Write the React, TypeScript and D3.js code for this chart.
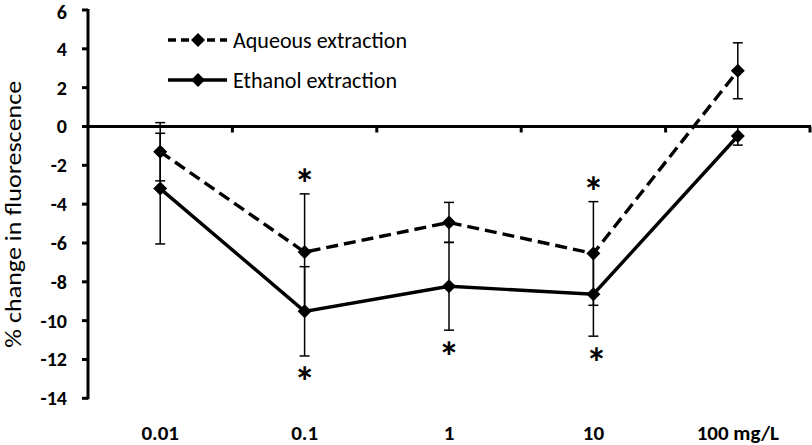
import React from "react";
import * as d3 from "d3";

const categories = ["0.01", "0.1", "1", "10", "100 mg/L"];
const aqueousMean = [-1.3, -6.47, -4.94, -6.54, 2.87];
const aqueousErr = [1.5, 3.0, 1.03, 2.67, 1.44];
const ethanolMean = [-3.2, -9.52, -8.23, -8.64, -0.49];
const ethanolErr = [2.85, 2.3, 2.26, 2.16, 0.47];
const aqueousSig = [false, true, false, true, false];
const ethanolSig = [false, true, true, true, false];
const yTicks = [6, 4, 2, 0, -2, -4, -6, -8, -10, -12, -14];
const seriesNames = ["Aqueous extraction", "Ethanol extraction"];

const W = 812;
const H = 445;
const FONT = "Carlito, Calibri, Lato, 'Open Sans', sans-serif";

export default function App() {
  const x = d3.scaleBand<string>().domain(categories).range([88, 810]).padding(0);
  const y = d3.scaleLinear().domain([-14, 6]).range([398.3, 10]);
  const cx = (c: string) => (x(c) as number) + x.bandwidth() / 2;
  const y0 = y(0);

  const line = d3
    .line<number>()
    .x((_, i) => cx(categories[i]))
    .y((v) => y(v));

  const diamond = "M0,-7L7,0L0,7L-7,0Z";

  const series = [
    { name: seriesNames[0], mean: aqueousMean, err: aqueousErr, dash: "12,6" },
    { name: seriesNames[1], mean: ethanolMean, err: ethanolErr, dash: "none" },
  ];

  const astFs = 42;

  return (
    <svg
      width={W}
      height={H}
      style={{ position: "absolute", left: 0, top: 0, background: "#fff" }}
      fontFamily={FONT}
    >
      <rect x={0} y={0} width={W} height={H} fill="#fff" />

      {/* y axis */}
      <line x1={88} x2={88} y1={y(6) - 1} y2={y(-14) + 1} stroke="#000" strokeWidth={3} />
      {yTicks.map((t) => (
        <g key={t}>
          <line x1={82} x2={88} y1={y(t)} y2={y(t)} stroke="#000" strokeWidth={3} />
          <text
            x={67}
            y={Math.max(y(t), 12)}
            textAnchor="end"
            dominantBaseline="central"
            fontSize={20}
            fontWeight="bold"
          >
            {t}
          </text>
        </g>
      ))}
      <text
        transform={`translate(13,${(y(6) + y(-14)) / 2 + 10}) rotate(-90)`}
        textAnchor="middle"
        dominantBaseline="central"
        fontSize={22}
        textLength={267}
        lengthAdjust="spacingAndGlyphs"
      >
        % change in fluorescence
      </text>

      {/* x axis at zero */}
      <line x1={86.5} x2={811} y1={y0} y2={y0} stroke="#000" strokeWidth={3} />
      {categories.map((c) => (
        <line
          key={"t" + c}
          x1={(x(c) as number) + x.bandwidth()}
          x2={(x(c) as number) + x.bandwidth()}
          y1={y0}
          y2={y0 + 6}
          stroke="#000"
          strokeWidth={3}
        />
      ))}
      {categories.map((c) => (
        <text
          key={"l" + c}
          x={cx(c)}
          y={433}
          textAnchor="middle"
          dominantBaseline="central"
          fontSize={21}
          fontWeight="bold"
        >
          {c}
        </text>
      ))}

      {/* error bars */}
      {series.map((s) =>
        categories.map((c, i) => {
          const top = y(s.mean[i] + s.err[i]);
          const bot = y(s.mean[i] - s.err[i]);
          const xc = cx(c);
          return (
            <g key={s.name + c} stroke="#000" strokeWidth={1.5}>
              <line x1={xc} x2={xc} y1={top} y2={bot} />
              <line x1={xc - 5} x2={xc + 5} y1={top} y2={top} />
              <line x1={xc - 5} x2={xc + 5} y1={bot} y2={bot} />
            </g>
          );
        })
      )}

      {/* lines */}
      {series.map((s) => (
        <path
          key={"p" + s.name}
          d={line(s.mean) || ""}
          fill="none"
          stroke="#000"
          strokeWidth={3.4}
          strokeDasharray={s.dash}
        />
      ))}
      {series.map((s) =>
        s.mean.map((v, i) => (
          <path
            key={"m" + s.name + i}
            d={diamond}
            transform={`translate(${cx(categories[i])},${y(v)})`}
            fill="#000"
          />
        ))
      )}

      {/* significance asterisks */}
      {categories.map((c, i) =>
        aqueousSig[i] ? (
          <text
            key={"aa" + c}
            x={cx(c)}
            y={y(aqueousMean[i] + aqueousErr[i]) - 18 + astFs * 0.56}
            textAnchor="middle"
            fontSize={astFs}
            fontWeight="bold"
          >
            *
          </text>
        ) : null
      )}
      {categories.map((c, i) =>
        ethanolSig[i] ? (
          <text
            key={"ea" + c}
            x={cx(c) + (i === 3 ? 3 : 0)}
            y={y(ethanolMean[i] - ethanolErr[i]) + 18 + astFs * 0.56}
            textAnchor="middle"
            fontSize={astFs}
            fontWeight="bold"
          >
            *
          </text>
        ) : null
      )}

      {/* legend */}
      {series.map((s, k) => {
        const ly = 40 + k * 40;
        return (
          <g key={"lg" + s.name}>
            <line
              x1={168}
              x2={227}
              y1={ly}
              y2={ly}
              stroke="#000"
              strokeWidth={3.4}
              strokeDasharray={k === 0 ? "8,5" : "none"}
            />
            <path d={diamond} transform={`translate(198,${ly})`} fill="#000" />
            <text
              x={233}
              y={ly}
              dominantBaseline="central"
              fontSize={22}
              textLength={k === 0 ? 174 : 164}
              lengthAdjust="spacingAndGlyphs"
            >
              {s.name}
            </text>
          </g>
        );
      })}
    </svg>
  );
}
